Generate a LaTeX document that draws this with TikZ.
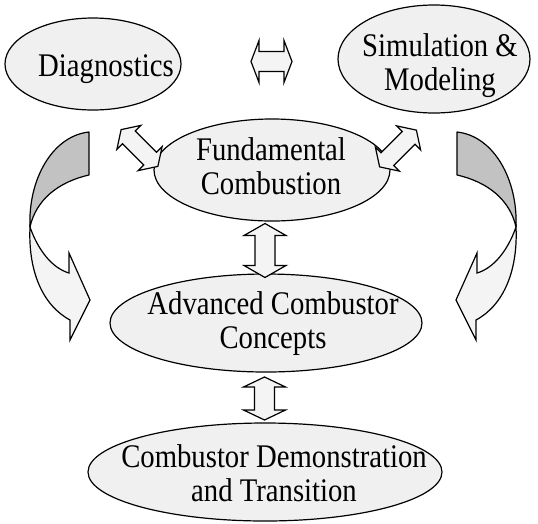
\documentclass[tikz,border=0pt]{standalone}
\usepackage{fontspec}
\setmainfont[FakeStretch=0.87]{Liberation Serif}
\usetikzlibrary{calc,shapes.geometric}
\tikzset{
  bubble/.style={ellipse,draw,line width=1.2pt,fill=gray!12,inner sep=0pt},
  label text/.style={inner sep=0pt,align=center,font=\fontsize{33}{34}\selectfont},
  blockarrow/.style={draw,line width=1.2pt,fill=gray!9,line join=miter},
  darkband/.style={draw,line width=1.2pt,fill=gray!48,line join=round},
  lightband/.style={draw,line width=1.2pt,fill=gray!9,line join=miter}
}
\newcommand\dblarrow[6]{%
  \draw[blockarrow,shift={#1},rotate=#2]
   (-#3,0) -- (-#3+#4,#6) -- (-#3+#4,#5) -- (#3-#4,#5) -- (#3-#4,#6) -- (#3,0)
   -- (#3-#4,-#6) -- (#3-#4,-#5) -- (-#3+#4,-#5) -- (-#3+#4,-#6) -- cycle;}
\begin{document}
\begin{tikzpicture}[x=1pt,y=-1pt]
\useasboundingbox (0,0) rectangle (538,523);
% ellipses
\node[bubble,minimum width=176pt,minimum height=92pt] (diag) at (93,64) {};
\node[bubble,minimum width=192pt,minimum height=108pt] (sim) at (434,59) {};
\node[bubble,minimum width=236pt,minimum height=102pt] (fund) at (272,170) {};
\node[bubble,minimum width=312pt,minimum height=98pt] (adv) at (266,323) {};
\node[bubble,minimum width=354pt,minimum height=98pt] (demo) at (265,472) {};
% texts
\node[label text] (diagt) at ($(diag)+(13,5)$) {Diagnostics};
\node[label text] (simt) at ($(sim)+(6,7)$) {Simulation \&\\Modeling};
\node[label text] (fundt) at ($(fund)+(-1,-4)$) {Fundamental\\Combustion};
\node[label text] (advt) at ($(adv)+(7,1)$) {Advanced Combustor\\Concepts};
\node[label text] (demot) at ($(demo)+(9,1)$) {Combustor Demonstration\\and Transition};
% block double arrows
\dblarrow{($(diag)!0.5!(sim)+(8,0)$)}{0}{20.5}{8}{10}{21}
\dblarrow{($(fund.south)!0.5!(adv.north)+(-4,3)$)}{90}{27}{12}{10}{21}
\dblarrow{($(adv.south)!0.5!(demo.north)+(-1,1)$)}{90}{21.5}{10}{10}{21}
\dblarrow{($(diag)!0.5!(fund)+(-43,31)$)}{-45}{26}{11}{9}{17}
\dblarrow{($(sim)!0.5!(fund)+(45,34)$)}{45}{26}{11}{9}{17}
% left curved arrow
\coordinate (lt1) at (89,132);
\coordinate (lt2) at (89,175);
\coordinate (lm) at (30,227);
\draw[darkband] (lt1) -- (lt2) .. controls (58,182) and (36,200) .. (lm)
  .. controls (28,180) and (52,136) .. (lt1) -- cycle;
\draw[lightband] (lm) .. controls (38,250) and (52,268) .. (69,273) -- (69,253) -- (90,300)
  -- (70,340) -- (70,320) .. controls (42,305) and (28,270) .. (lm) -- cycle;
% right curved arrow (mirror about x=273)
\coordinate (rt1) at (457,132);
\coordinate (rt2) at (457,175);
\coordinate (rm) at (516,227);
\draw[darkband] (rt1) -- (rt2) .. controls (488,182) and (510,200) .. (rm)
  .. controls (518,180) and (494,136) .. (rt1) -- cycle;
\draw[lightband] (rm) .. controls (508,250) and (494,268) .. (477,273) -- (477,253) -- (456,300)
  -- (476,340) -- (476,320) .. controls (504,305) and (518,270) .. (rm) -- cycle;
\end{tikzpicture}
\end{document}
